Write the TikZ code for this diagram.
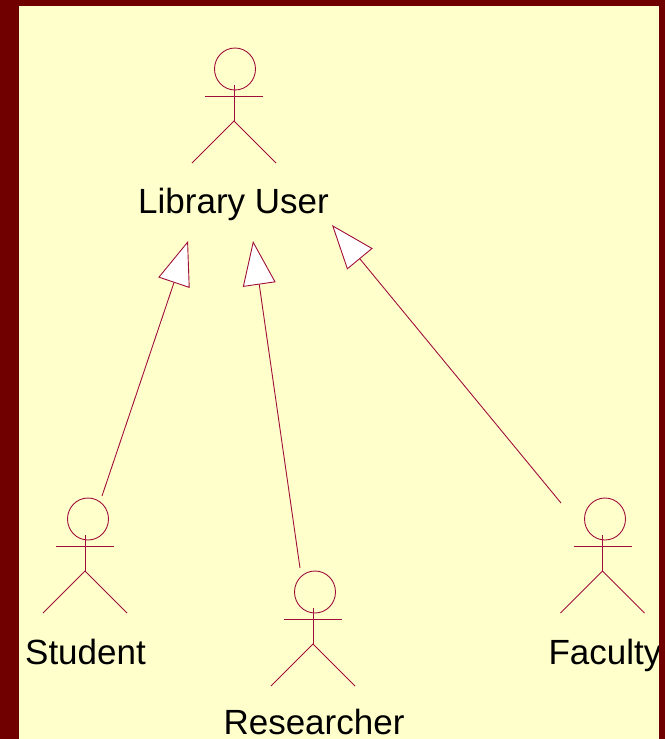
\documentclass[tikz,border=0pt]{standalone}
\usepackage{fontspec}
\setmainfont{Liberation Sans}
\usepackage{tikz}
\usetikzlibrary{arrows.meta}
\definecolor{frame}{HTML}{700000}
\definecolor{paper}{HTML}{FFFFCC}
\definecolor{stroke}{HTML}{A00F3C}
\tikzset{
  actorline/.style={draw=stroke, line width=0.9pt},
  label/.style={anchor=base, inner sep=0pt, font=\fontsize{35}{40}\selectfont},
  gen/.style={actorline, -{Triangle[open, fill=white, length=44pt, width=33pt]}}
}
\begin{document}
\begin{tikzpicture}[x=1pt, y=-1pt]
\useasboundingbox (0,0) rectangle (665,739);
\fill[frame] (0,0) rectangle (665,739);
\fill[paper] (19,6) rectangle (665,739);
% actors: body x / head x / hip y
\foreach \x/\h/\y in {234/235/121, 85/88/571, 313/315/644, 602.5/605/571} {
  \draw[actorline] (\h,\y-52) ellipse (20.5 and 21);
  \draw[actorline] (\x,\y-36)--(\x,\y);
  \draw[actorline] (\x-29,\y-25)--(\x+29,\y-25);
  \draw[actorline] (\x-42,\y+42)--(\x,\y)--(\x+42,\y+42);
}
\node[label] (user) at (233.5,213) {Library User};
\node[label] (student) at (85.5,664) {Student};
\node[label] (researcher) at (314,734) {Researcher};
\node[label] (faculty) at (605,664) {Faculty};
% ends of the generalisations
\coordinate (studentfoot) at (102,496);
\coordinate (studenttip) at (188,241);
\coordinate (researcherfoot) at (300,568);
\coordinate (researchertip) at (253,241);
\coordinate (facultyfoot) at (561,503);
\coordinate (facultytip) at (332,225);
\draw[gen] (studentfoot)--(studenttip);
\draw[gen] (researcherfoot)--(researchertip);
\draw[gen] (facultyfoot)--(facultytip);
\fill[frame] (659,0) rectangle (665,739);
\end{tikzpicture}
\end{document}
